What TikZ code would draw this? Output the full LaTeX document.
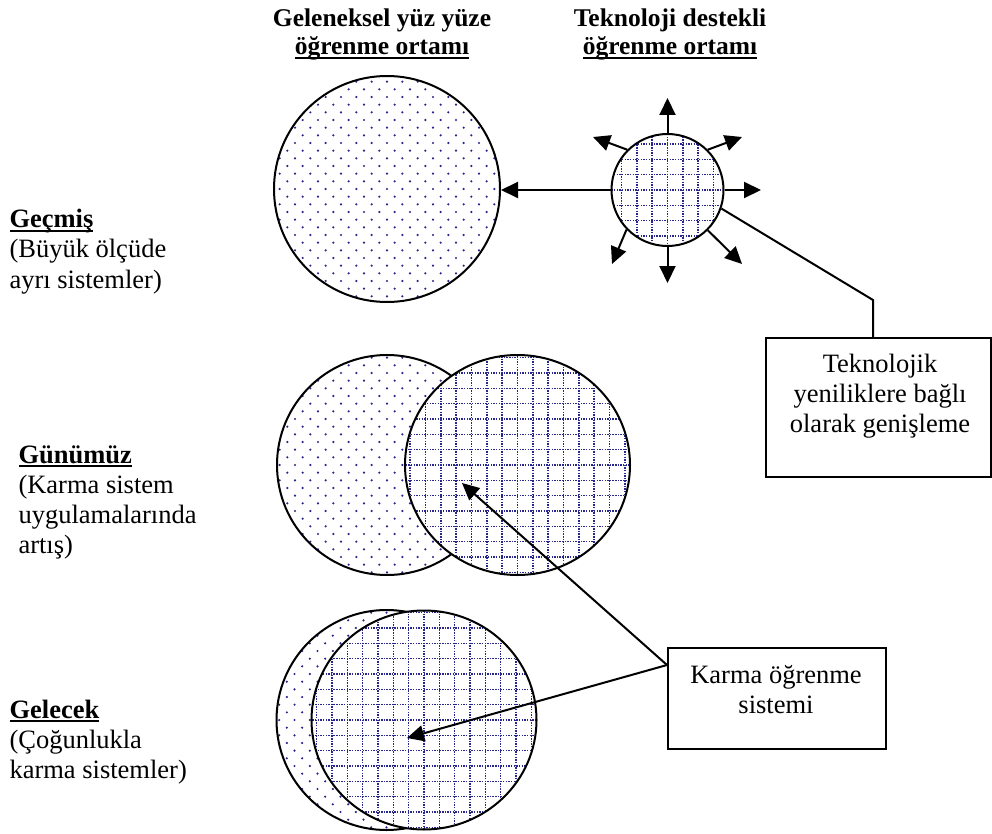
\documentclass[tikz,border=0pt]{standalone}
\usepackage{fontspec}
\setmainfont{Liberation Serif}
\usetikzlibrary{arrows.meta,shapes.geometric,calc}

\definecolor{patblue}{RGB}{38,38,140}

% underlined word with a rule just below the baseline
\newcommand\ulword[1]{\setbox0\hbox{#1}\rlap{\rule[-4.3pt]{\wd0}{2.7pt}}\box0}

% staggered dot texture around a centre (clipped by the caller)
\newcommand\dotfield[2]{%
  \foreach \j in {-16,...,16}{%
    \foreach \i in {-8,...,8}{%
      \pgfmathsetmacro\xx{#1+15.33*(\i)+7.665*mod(abs(\j),2)}%
      \pgfmathsetmacro\yy{#2+7.665*(\j)}%
      \fill[patblue] (\xx,\yy) circle[radius=1.2pt];
    }}}

% dotted square grid around a centre (clipped by the caller)
\newcommand\gridfield[2]{%
  \foreach \k in {-8,...,8}{%
    \draw[griddot] ({#1+15.33*(\k)},{#2-125}) -- ({#1+15.33*(\k)},{#2+125});
    \draw[griddot] ({#1-125},{#2+15.33*(\k)}) -- ({#1+125},{#2+15.33*(\k)});
  }}

\begin{document}
\begin{tikzpicture}[x=1pt,y=-1pt,
  rim/.style={draw=black, line width=2pt, inner sep=0pt},
  ring/.style={rim, circle, minimum size=#1},
  arr/.style={line width=2pt, -{Triangle[length=17pt,width=16pt]}},
  link/.style={line width=2pt},
  txt/.style={font=\fontsize{26.5}{30.5}\selectfont, inner sep=0pt},
  lbl/.style={txt, anchor=base west},
  ctr/.style={txt, anchor=base},
  head/.style={font=\bfseries\fontsize{25.5}{29}\selectfont, inner sep=0pt, anchor=base},
  griddot/.style={draw=patblue, line width=1.5pt, dash pattern=on 1.4pt off 1.25pt}]

\useasboundingbox (0,0) rectangle (992,834);

% column headings
\node[head] (h1a) at (382,27) {Geleneksel yüz yüze};
\node[head] (h1b) at (382,55) {\ulword{öğrenme ortamı}};
\node[head] (h2a) at (670,27) {Teknoloji destekli};
\node[head] (h2b) at (670,55) {\ulword{öğrenme ortamı}};

% row labels
\node[lbl] (l1a) at (9.3,228) {\ulword{\bfseries Geçmiş}};
\node[lbl] (l1b) at (9.3,258) {(Büyük ölçüde};
\node[lbl] (l1c) at (9.3,288) {ayrı sistemler)};
\node[lbl] (l2a) at (18.3,463) {\ulword{\bfseries Günümüz}};
\node[lbl] (l2b) at (18.3,493) {(Karma sistem};
\node[lbl] (l2c) at (18.3,523) {uygulamalarında};
\node[lbl] (l2d) at (18.3,553) {artış)};
\node[lbl] (l3a) at (9.3,718) {\ulword{\bfseries Gelecek}};
\node[lbl] (l3b) at (9.3,748) {(Çoğunlukla};
\node[lbl] (l3c) at (9.3,778) {karma sistemler)};

% ---- past: two separate systems
\fill[white] (387,189) circle[radius=113pt];
\begin{scope}
  \clip (387,189) circle[radius=113pt];
  \dotfield{387}{189}
\end{scope}
\node[ring=226pt] (past) at (387,189) {};

\fill[white] (667.5,190) circle[radius=56pt];
\begin{scope}
  \clip (667.5,190) circle[radius=56pt];
  \gridfield{667.5}{190}
\end{scope}
\node[ring=112pt] (tech) at (667.5,190) {};

\draw[arr] (tech.west) -- (tech.west -| past.east);

% expansion arrows around the technology circle
\coordinate (e1) at (667.5,98);
\coordinate (e2) at (742,137);
\coordinate (e3) at (761,190);
\coordinate (e4) at (742,264);
\coordinate (e5) at (667.5,283);
\coordinate (e6) at (612,264);
\coordinate (e7) at (593,137);
\draw[arr] (tech.90) -- (e1);
\draw[arr] (tech.45) -- (e2);
\draw[arr] (tech.0) -- (e3);
\draw[arr] (tech.-45) -- (e4);
\draw[arr] (tech.-90) -- (e5);
\draw[arr] (tech.-136) -- (e6);
\draw[arr] (tech.135) -- (e7);

% callout: expansion note
\node[rim, minimum width=225pt, minimum height=139pt, anchor=north west] (box1) at (765,337) {};
\node[ctr] (b1a) at (880,372) {Teknolojik};
\node[ctr] (b1b) at (880,402) {yeniliklere bağlı};
\node[ctr] (b1c) at (880,432) {olarak genişleme};
\coordinate (bend) at (873,300);
\draw[link] (tech.-19) -- (bend) -- (bend |- box1.north);

% ---- present: overlapping systems
\fill[white] (387,465) circle[radius=110pt];
\begin{scope}
  \clip (387,465) circle[radius=110pt];
  \dotfield{387}{465}
\end{scope}
\node[ring=220pt] (nowA) at (387,465) {};

\fill[white] (517.5,465) ellipse[x radius=112.5pt, y radius=110pt];
\begin{scope}
  \clip (517.5,465) ellipse[x radius=112.5pt, y radius=110pt];
  \gridfield{517.5}{465}
\end{scope}
\node[rim, ellipse, minimum width=225pt, minimum height=220pt] (nowB) at (517.5,465) {};

% ---- future: mostly blended
\fill[white] (386.5,720) circle[radius=110pt];
\begin{scope}
  \clip (386.5,720) circle[radius=110pt];
  \dotfield{386.5}{720}
\end{scope}
\node[ring=220pt] (futA) at (386.5,720) {};

\fill[white] (424,720) ellipse[x radius=112.5pt, y radius=109.5pt];
\begin{scope}
  \clip (424,720) ellipse[x radius=112.5pt, y radius=109.5pt];
  \gridfield{424}{720}
\end{scope}
\node[rim, ellipse, minimum width=225pt, minimum height=219pt] (futB) at (424,720) {};

% callout: blended learning system
\node[rim, minimum width=218pt, minimum height=101pt, anchor=north west] (box2) at (667,647) {};
\node[ctr] (b2a) at (776,683) {Karma öğrenme};
\node[ctr] (b2b) at (776,713) {sistemi};
\coordinate (tipA) at (462,483);
\coordinate (tipB) at (407,738);
\draw[arr] ([yshift=-18pt]box2.north west) -- (tipA);
\draw[arr] ([yshift=-18pt]box2.north west) -- (tipB);

\end{tikzpicture}
\end{document}
